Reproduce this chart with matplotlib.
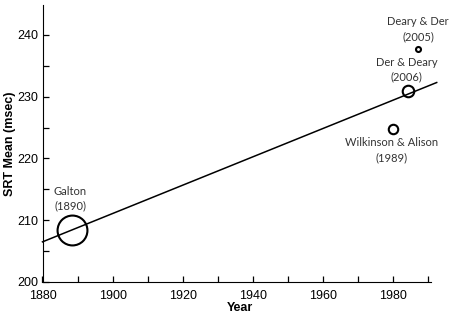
import matplotlib
matplotlib.use("Agg")
import matplotlib.pyplot as plt
from matplotlib.ticker import MultipleLocator

# studies: year of testing vs mean simple reaction time
studies = ["Galton\n(1890)", "Wilkinson & Alison\n(1989)", "Der & Deary\n(2006)", "Deary & Der\n(2005)"]
years = [1888.3, 1979.9, 1984.2, 1987.1]
srt_mean = [208.4, 224.8, 230.9, 237.7]
marker_sizes = [21.5, 6.8, 8.3, 3.6]

# regression line end points
fit_years = [1880, 1992.4]
fit_srt = [206.5, 232.3]

# label anchors (data coords)
label_x = [1888.0, 1979.6, 1983.9, 1987.1]
label_y = [213.5, 221.3, 234.4, 241.0]

plt.rcParams["font.family"] = ["Liberation Sans", "DejaVu Sans"]

fig = plt.figure(figsize=(4.54, 3.16), dpi=100)
ax = fig.add_axes([42.5 / 454, 34 / 316, (436.7 - 42.5) / 454, (282 - 4.7) / 316])

ax.plot(fit_years, fit_srt, color="black", lw=1.1, clip_on=False, zorder=2)
for x, y, ms in zip(years, srt_mean, marker_sizes):
    ax.plot(x, y, "o", ms=ms, mfc="none", mec="black", mew=1.5, zorder=3)

for name, x, y in zip(studies, label_x, label_y):
    ax.text(x, y, name, ha="center", va="center", fontsize=8.0, color="#333333",
            family=["Lato", "DejaVu Sans"], linespacing=1.45)

ax.set_xlim(1880, 1992.4)
ax.set_ylim(200, 244.9)
ax.spines["top"].set_visible(False)
ax.spines["right"].set_visible(False)
ax.spines["bottom"].set_bounds(1880, 1990.8)

ax.xaxis.set_major_locator(MultipleLocator(20))
ax.xaxis.set_minor_locator(MultipleLocator(10))
ax.yaxis.set_major_locator(MultipleLocator(10))
ax.yaxis.set_minor_locator(MultipleLocator(5))
ax.tick_params(which="both", direction="in", labelsize=9, width=0.9, length=4)
ax.tick_params(axis="x", pad=5.5)
ax.tick_params(axis="y", pad=3)

ax.set_xlabel("Year", fontsize=9, fontweight="bold", labelpad=0)
ax.set_ylabel("SRT Mean (msec)", fontsize=9, fontweight="bold", labelpad=1)

fig.savefig("out.png", dpi=100)
